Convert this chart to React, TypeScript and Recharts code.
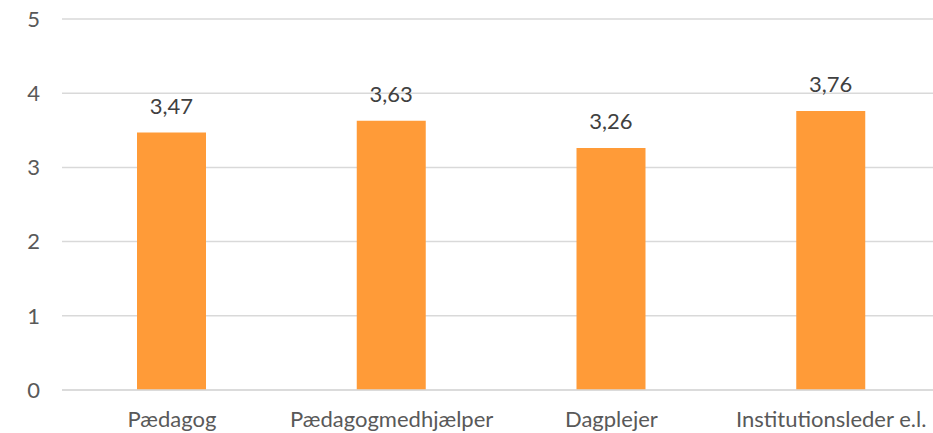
import { BarChart, Bar, XAxis, YAxis, CartesianGrid, LabelList } from 'recharts';

const categories = ['Pædagog', 'Pædagogmedhjælper', 'Dagplejer', 'Institutionsleder e.l.'];
const values = [3.47, 3.63, 3.26, 3.76];
const yTicks = [0, 1, 2, 3, 4, 5];

const data = categories.map((name, i) => ({ name, value: values[i] }));

const fmt = (v: any) => Number(v).toFixed(2).replace('.', ',');

export default function App() {
  return (
    <div style={{ position: 'absolute', left: 0, top: 0, width: 933, height: 433, overflow: 'hidden', background: '#fff' }}>
      <BarChart
        width={950}
        height={433}
        data={data}
        margin={{ top: 19, right: 9, bottom: 13, left: 0 }}
        style={{ fontFamily: 'Lato, sans-serif' }}
      >
        <CartesianGrid vertical={false} stroke="#D9D9D9" strokeWidth={1.5} />
        <XAxis
          dataKey="name"
          axisLine={{ stroke: '#D9D9D9', strokeWidth: 1.5 }}
          tickLine={false}
          tickMargin={15}
          tick={{ fill: '#595959', fontSize: 22 }}
          interval={0}
        />
        <YAxis
          domain={[0, 5]}
          ticks={yTicks}
          width={62}
          axisLine={false}
          tickLine={false}
          tickMargin={16}
          tick={{ fill: '#595959', fontSize: 22 }}
        />
        <Bar dataKey="value" fill="#FF9B38" barSize={69} isAnimationActive={false}>
          <LabelList dataKey="value" position="top" offset={19} formatter={fmt} fill="#404040" fontSize={22} />
        </Bar>
      </BarChart>
    </div>
  );
}
